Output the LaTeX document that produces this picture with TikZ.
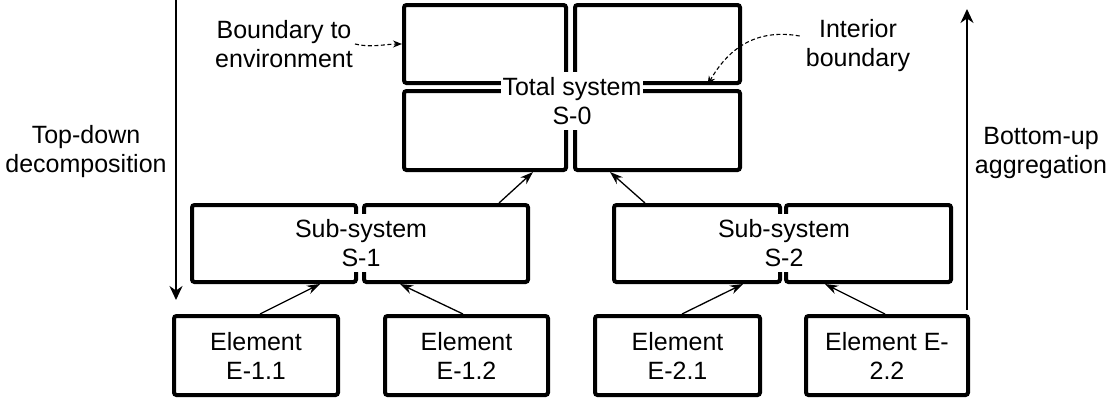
\documentclass[tikz,border=0pt]{standalone}
\usepackage{fontspec}
\setmainfont{Liberation Sans}
\usetikzlibrary{arrows.meta}
\begin{document}
\begin{tikzpicture}[x=1pt,y=-1pt,
  sysbox/.style={draw, line width=4pt, rounded corners=2.5pt, inner sep=0pt},
  lbl/.style={font=\fontsize{25}{29}\selectfont, align=center, inner sep=0pt},
  cover/.style={lbl, fill=white, inner xsep=2pt, inner ysep=5pt},
  link/.style={line width=1.3pt, -{Stealth[length=13pt,width=9pt]}},
  flow/.style={line width=2.2pt, -{Stealth[length=14pt,width=13pt]}},
  note/.style={dash pattern=on 4pt off 2.5pt, line width=1.1pt, -{Stealth[length=9pt,width=7pt]}}]
\useasboundingbox (0,0) rectangle (1112,399);

% Total system S-0
\node[sysbox, minimum width=162pt, minimum height=78pt] (s0tl) at (485,44) {};
\node[sysbox, minimum width=165pt, minimum height=78pt] (s0tr) at (657.5,44) {};
\node[sysbox, minimum width=162pt, minimum height=79pt] (s0bl) at (485,130.5) {};
\node[sysbox, minimum width=165pt, minimum height=79pt] (s0br) at (657.5,130.5) {};
\node[cover] (s0txt) at (572,101) {Total system\\S-0};

% Sub-system S-1
\node[sysbox, minimum width=164pt, minimum height=77pt] (s1a) at (274,243.5) {};
\node[sysbox, minimum width=164pt, minimum height=77pt] (s1b) at (446,243.5) {};
\node[cover] (s1txt) at (361,243) {Sub-system\\S-1};

% Sub-system S-2
\node[sysbox, minimum width=166pt, minimum height=77pt] (s2a) at (697,243.5) {};
\node[sysbox, minimum width=165pt, minimum height=77pt] (s2b) at (868.5,243.5) {};
\node[cover] (s2txt) at (784,243) {Sub-system\\S-2};

% Elements
\node[sysbox, lbl, minimum width=164pt, minimum height=79pt] (e11) at (256,355.5) {Element\\E-1.1};
\node[sysbox, lbl, minimum width=163pt, minimum height=79pt] (e12) at (466.5,355.5) {Element\\E-1.2};
\node[sysbox, lbl, minimum width=165pt, minimum height=79pt] (e21) at (677.5,355.5) {Element\\E-2.1};
\node[sysbox, lbl, minimum width=162pt, minimum height=79pt] (e22) at (887,355.5) {Element E-\\2.2};

% Aggregation links
\draw[link] ([xshift=4pt]e11.north) -- ([xshift=46pt]s1a.south);
\draw[link] ([xshift=-3.5pt]e12.north) -- ([xshift=-46pt]s1b.south);
\draw[link] ([xshift=4.5pt]e21.north) -- ([xshift=46pt]s2a.south);
\draw[link] ([xshift=-2pt]e22.north) -- ([xshift=-43.5pt]s2b.south);
\draw[link] ([xshift=53pt]s1b.north) -- ([xshift=48pt]s0bl.south);
\draw[link] ([xshift=-52pt]s2a.north) -- ([xshift=-47.5pt]s0br.south);

% Side labels and arrows
\coordinate (tdtop) at (176,0);
\coordinate (tdbot) at (176,300);
\draw[flow] (tdtop) -- (tdbot);
\node[lbl] (tdtxt) at (86,152) {Top-down\\decomposition};

\coordinate (bubot) at (967,310);
\coordinate (butop) at (967,9);
\draw[flow] (bubot) -- (butop);
\node[lbl] (butxt) at (1041,153) {Bottom-up\\aggregation};

% Annotations
\node[lbl] (bte) at (284,44) {Boundary to\\environment};
\draw[note] ([xshift=2pt]bte.east) .. controls +(15,4) and +(-15,0) .. (s0tl.west);

\node[lbl] (ib) at (858,46) {Interior\\boundary};
\draw[note] ([xshift=-6pt,yshift=10pt]ib.west) .. controls +(-45,-8) and +(20,-35) .. ([xshift=50pt]s0tr.south);
\end{tikzpicture}
\end{document}
